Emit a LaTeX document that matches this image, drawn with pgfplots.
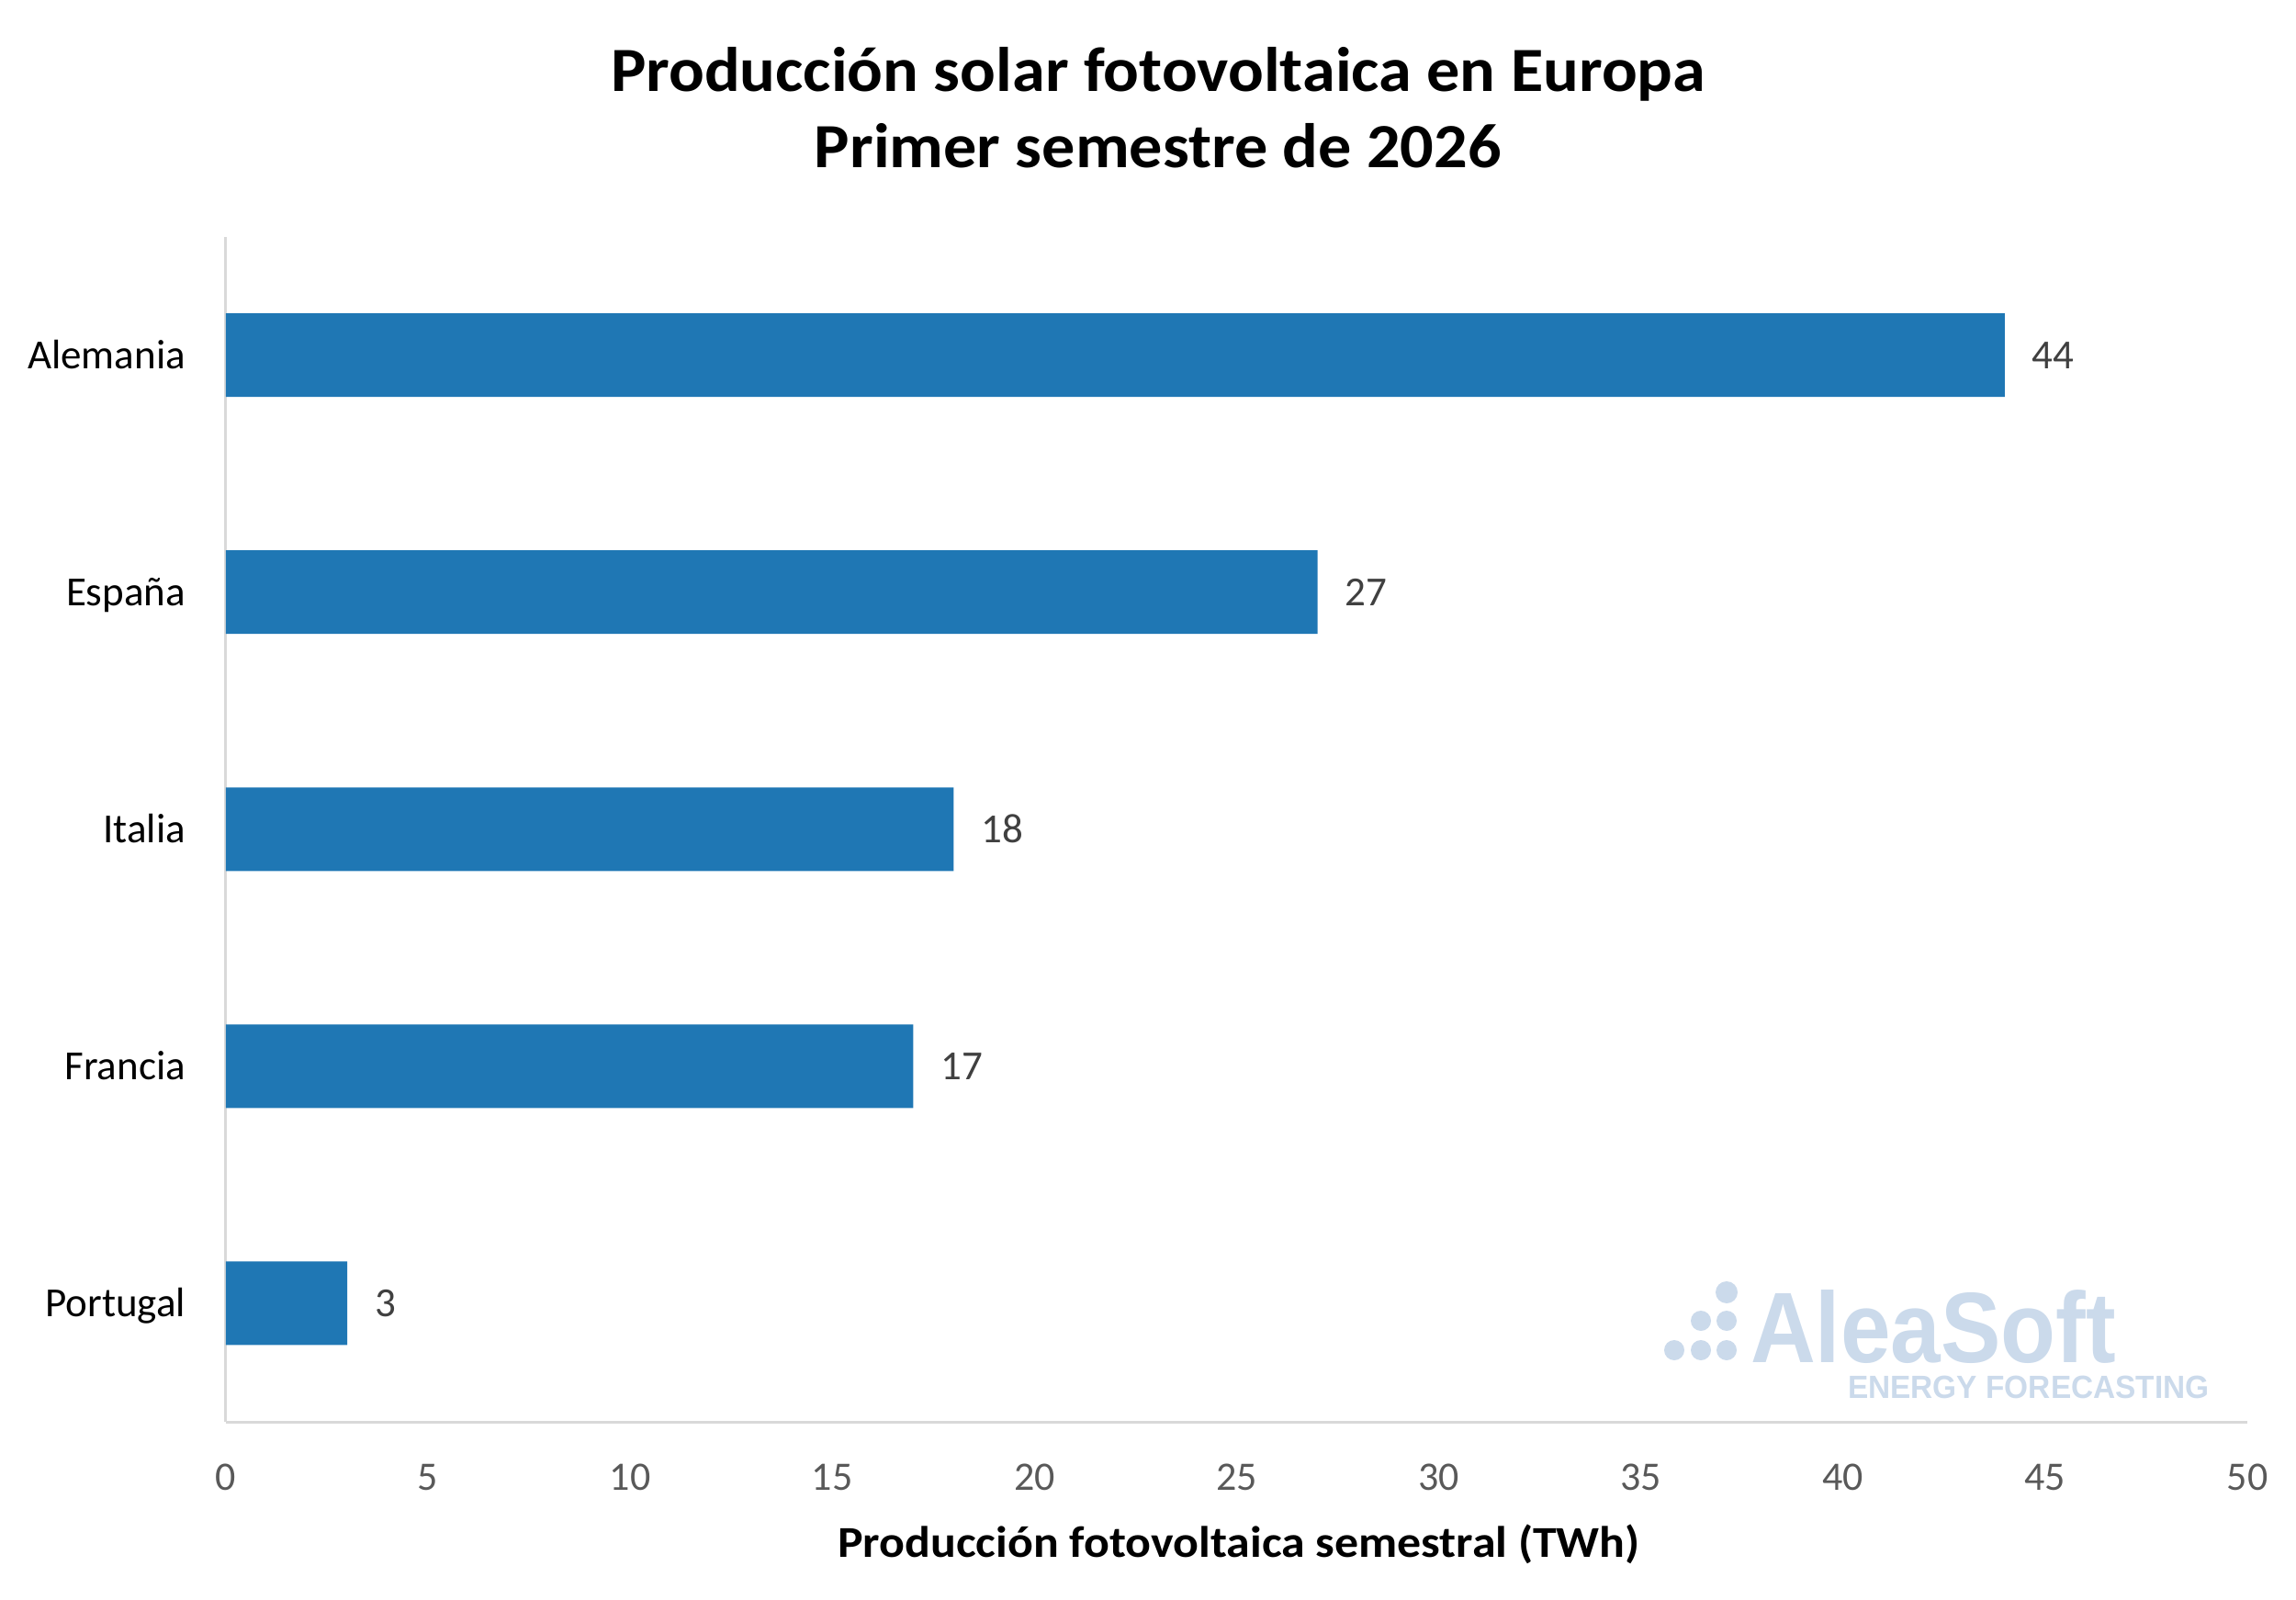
\documentclass[border=0pt]{standalone}
\usepackage{pgfplots}
\pgfplotsset{compat=1.18}
\usepackage{fontspec}
\setmainfont{Carlito}
\newfontfamily\logofont{Liberation Sans}
\definecolor{barblue}{HTML}{1F77B4}
\definecolor{axisgray}{HTML}{D9D9D9}
\definecolor{tickgray}{HTML}{595959}
\definecolor{labelgray}{HTML}{404040}
\definecolor{logoblue}{RGB}{203,218,235}
\begin{document}
\begin{tikzpicture}
\path[use as bounding box] (-49.2pt,-38.6pt) rectangle (450.8pt,309.6pt);
% watermark
\fill[logoblue] (326.8pt,28.2pt) circle (2.4pt);
\fill[logoblue] (321.2pt,22.0pt) circle (2.2pt);
\fill[logoblue] (326.8pt,22.0pt) circle (2.2pt);
\fill[logoblue] (315.4pt,15.6pt) circle (2.2pt);
\fill[logoblue] (321.2pt,15.6pt) circle (2.2pt);
\fill[logoblue] (326.8pt,15.6pt) circle (2.2pt);
\node[anchor=base west, inner sep=0, text=logoblue, font=\logofont\bfseries\fontsize{21.8}{24}\selectfont] at (331.8pt,13pt) {\scalebox{0.9}[1]{AleaSoft}};
\node[anchor=base west, inner sep=0, text=logoblue, font=\logofont\bfseries\fontsize{7}{8}\selectfont] at (353pt,5.2pt) {\scalebox{0.955}[1]{ENERGY FORECASTING}};
\begin{axis}[
  at={(0pt,0pt)}, anchor=south west,
  scale only axis, width=440.2pt, height=258.1pt,
  xbar, bar width=18.2pt,
  xmin=0, xmax=50, ymin=-0.5, ymax=4.5,
  ytick={0,1,2,3,4},
  yticklabels={Portugal,Francia,Italia,España,Alemania},
  xtick={0,5,...,50},
  axis lines*=left,
  axis line style={draw=axisgray, line width=0.6pt},
  major tick length=0pt,
  tick style={draw=none},
  /pgf/number format/assume math mode=true,
  xticklabel style={anchor=base, yshift=-14.8pt, inner sep=0pt, text=tickgray, font=\fontsize{8.8}{10}\selectfont},
  yticklabel style={anchor=base east, xshift=-8.6pt, yshift=-2.9pt, inner sep=0pt, text=black, font=\fontsize{9}{10}\selectfont},
  nodes near coords,
  nodes near coords style={anchor=base west, xshift=5.8pt, yshift=-2.9pt, inner sep=0pt, text=labelgray, font=\fontsize{9}{10}\selectfont},
  clip=false,
]
\addplot[fill=barblue, draw=none, point meta=x] coordinates {(3,0) (17,1) (18,2) (27,3) (44,4)};
\end{axis}
\node[anchor=base, font=\bfseries\fontsize{13.7}{16}\selectfont] at (203pt,289.6pt) {\scalebox{1.055}[1]{Producción solar fotovoltaica en Europa}};
\node[anchor=base, font=\bfseries\fontsize{13.7}{16}\selectfont] at (203pt,273pt) {\scalebox{1.055}[1]{Primer semestre de 2026}};
\node[anchor=base, font=\bfseries\fontsize{9.6}{11}\selectfont] at (220.6pt,-29.4pt) {\scalebox{1.08}[1]{Producción fotovoltaica semestral (TWh)}};
\end{tikzpicture}
\end{document}
